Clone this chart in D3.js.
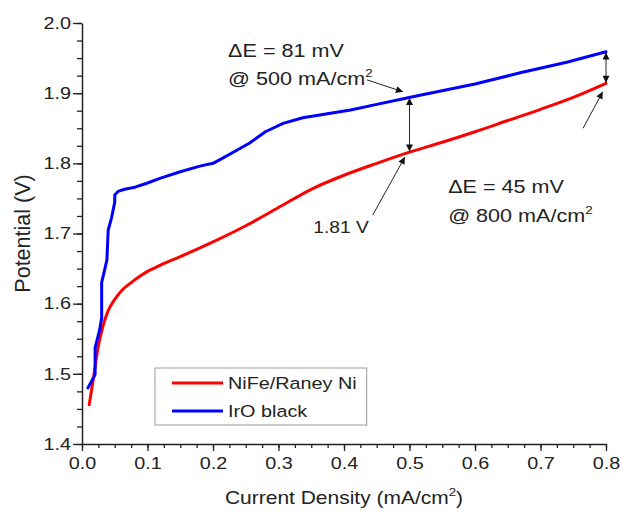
<!DOCTYPE html>
<html>
<head>
<meta charset="utf-8">
<script src="https://cdn.jsdelivr.net/npm/d3@7"></script>
<style>
  body { margin: 0; background: #fff; }
  svg { display: block; font-family: Arial, "Liberation Sans", sans-serif; }
</style>
</head>
<body>
<svg></svg>
<script>
// NiFe/Raney Ni (red)
const nifeX = [0.011, 0.017, 0.025, 0.032, 0.04, 0.05, 0.06, 0.075, 0.09, 0.1, 0.12, 0.15, 0.2, 0.25, 0.3, 0.35, 0.4, 0.45, 0.5, 0.55, 0.6, 0.65, 0.7, 0.75, 0.8];
const nifeY = [1.456, 1.491, 1.540, 1.568, 1.590, 1.606, 1.618, 1.630, 1.640, 1.646, 1.655, 1.667, 1.688, 1.711, 1.737, 1.763, 1.783, 1.800, 1.816, 1.830, 1.845, 1.861, 1.877, 1.894, 1.914];

// IrO black (blue)
const iroX = [0.009, 0.012, 0.02, 0.02, 0.027, 0.03, 0.03, 0.038, 0.04, 0.045, 0.047, 0.05, 0.05, 0.055, 0.065, 0.081, 0.1, 0.12, 0.15, 0.18, 0.2, 0.21, 0.237, 0.256, 0.28, 0.307, 0.337, 0.37, 0.41, 0.45, 0.496, 0.516, 0.531, 0.6, 0.669, 0.74, 0.8];
const iroY = [1.480, 1.485, 1.499, 1.537, 1.563, 1.58, 1.63, 1.662, 1.705, 1.722, 1.731, 1.745, 1.755, 1.760, 1.763, 1.766, 1.772, 1.779, 1.788, 1.796, 1.800, 1.805, 1.819, 1.829, 1.845, 1.857, 1.865, 1.870, 1.876, 1.884, 1.893, 1.897, 1.900, 1.913, 1.929, 1.944, 1.959];

const seriesNames = ['NiFe/Raney Ni', 'IrO black'];
const xTicks = [0, 0.1, 0.2, 0.3, 0.4, 0.5, 0.6, 0.7, 0.8];
const yTicks = [1.4, 1.5, 1.6, 1.7, 1.8, 1.9, 2.0];

const size = {w: 620, h: 515};
const margin = {t: 23, r: 14, b: 71, l: 82};
const sx = 1.2; // glyphs in the figure are a bit wide

const svg = d3.select('svg').attr('width', size.w).attr('height', size.h);

const x = d3.scaleLinear().domain([0, 0.8]).range([margin.l, size.w - margin.r]);
const y = d3.scaleLinear().domain([1.4, 2.0]).range([size.h - margin.b, margin.t]);

const minorX = d3.range(0, 0.8001, 0.025);
const minorY = d3.range(1.4, 2.0001, 0.025);

// minor ticks
svg.append('g')
    .attr('transform', `translate(0,${y(1.4)})`)
    .call(d3.axisBottom(x).tickValues(minorX).tickSize(4).tickSizeOuter(0).tickFormat(''))
    .call(g => g.select('.domain').remove());
svg.append('g')
    .attr('transform', `translate(${x(0)},0)`)
    .call(d3.axisLeft(y).tickValues(minorY).tickSize(5).tickSizeOuter(0).tickFormat(''))
    .call(g => g.select('.domain').remove());

// major ticks + labels
const xAxis = svg.append('g')
    .attr('transform', `translate(0,${y(1.4)})`)
    .call(d3.axisBottom(x).tickValues(xTicks).tickSize(7).tickSizeOuter(0).tickPadding(6).tickFormat(d3.format('.1f')));
const yAxis = svg.append('g')
    .attr('transform', `translate(${x(0)},0)`)
    .call(d3.axisLeft(y).tickValues(yTicks).tickSize(9).tickSizeOuter(0).tickFormat(d3.format('.1f')));

svg.selectAll('.tick line').attr('stroke', '#222').attr('stroke-width', 1.3);
svg.selectAll('.domain').attr('stroke', '#222').attr('stroke-width', 1.5);

xAxis.selectAll('text')
    .attr('font-size', 16.5).attr('fill', '#222')
    .attr('transform', `scale(${sx},1)`);
yAxis.selectAll('text')
    .attr('font-size', 16.5).attr('fill', '#222')
    .attr('x', -11 / sx)
    .attr('transform', `scale(${sx},1)`);

// axis titles
const xt = svg.append('g')
    .attr('transform', `translate(${(x(0) + x(0.8)) / 2},504) scale(${sx},1)`)
    .append('text')
    .attr('text-anchor', 'middle').attr('font-size', 17.5).attr('fill', '#222');
xt.append('tspan').text('Current Density (mA/cm');
xt.append('tspan').text('2').attr('font-size', 11).attr('dy', -8);
xt.append('tspan').text(')').attr('dy', 8);

svg.append('text')
    .attr('transform', `translate(30,${(y(1.4) + y(2.0)) / 2}) rotate(-90)`)
    .attr('text-anchor', 'middle').attr('font-size', 21.5).attr('fill', '#222')
    .text('Potential (V)');

// curves
const series = [
    {name: seriesNames[0], color: '#ff0000', pts: d3.zip(nifeX, nifeY), curve: d3.curveMonotoneX},
    {name: seriesNames[1], color: '#0000ff', pts: d3.zip(iroX, iroY), curve: d3.curveLinear}
];
svg.selectAll('path.curve')
    .data(series)
    .join('path')
    .attr('class', 'curve')
    .attr('d', d => d3.line().curve(d.curve).x(p => x(p[0])).y(p => y(p[1]))(d.pts))
    .attr('fill', 'none')
    .attr('stroke', d => d.color)
    .attr('stroke-width', 3)
    .attr('stroke-linejoin', 'round')
    .attr('stroke-linecap', 'round');

// arrow heads
const defs = svg.append('defs');
defs.append('marker')
    .attr('id', 'head')
    .attr('viewBox', '0 0 10 10')
    .attr('refX', 10).attr('refY', 5)
    .attr('markerWidth', 9).attr('markerHeight', 7)
    .attr('markerUnits', 'userSpaceOnUse')
    .attr('orient', 'auto-start-reverse')
    .append('path').attr('d', 'M0,0 L10,5 L0,10 z').attr('fill', '#111');

const arrows = [
    {x1: 0.435, y1: 1.919, x2: 0.49, y2: 1.902, both: false},
    {x1: 0.5, y1: 1.893, x2: 0.5, y2: 1.817, both: true},
    {x1: 0.444, y1: 1.7265, x2: 0.493, y2: 1.809, both: false},
    {x1: 0.8, y1: 1.958, x2: 0.8, y2: 1.915, both: true},
    {x1: 0.765, y1: 1.850, x2: 0.795, y2: 1.902, both: false}
];
svg.selectAll('line.arrow')
    .data(arrows)
    .join('line')
    .attr('class', 'arrow')
    .attr('x1', d => x(d.x1)).attr('y1', d => y(d.y1))
    .attr('x2', d => x(d.x2)).attr('y2', d => y(d.y2))
    .attr('stroke', '#222').attr('stroke-width', 1)
    .attr('marker-end', 'url(#head)')
    .attr('marker-start', d => d.both ? 'url(#head)' : null);

// annotation texts
const notes = [
    {x: 0.223, y: 1.9516, t: '\u0394E = 81 mV', sup: '', size: 18},
    {x: 0.223, y: 1.9117, t: '@ 500 mA/cm', sup: '2', size: 18},
    {x: 0.559, y: 1.7578, t: '\u0394E = 45 mV', sup: '', size: 18},
    {x: 0.559, y: 1.7165, t: '@ 800 mA/cm', sup: '2', size: 18},
    {x: 0.353, y: 1.701, t: '1.81 V', sup: '', size: 16}
];
notes.forEach(n => {
    const t = svg.append('g')
        .attr('transform', `translate(${x(n.x)},${y(n.y)}) scale(${sx},1)`)
        .append('text').attr('font-size', n.size).attr('fill', '#222');
    t.append('tspan').text(n.t);
    if (n.sup) t.append('tspan').text(n.sup).attr('font-size', n.size * 0.62).attr('dy', -8);
});

// legend
const lg = svg.append('g').attr('transform', 'translate(155,368)');
const box = lg.append('rect')
    .attr('height', 57)
    .attr('fill', '#fff').attr('stroke', '#999').attr('stroke-width', 1);
let textEnd = 0;
series.forEach((s, i) => {
    lg.append('line')
        .attr('x1', 17).attr('x2', 68)
        .attr('y1', 15 + i * 28).attr('y2', 15 + i * 28)
        .attr('stroke', s.color).attr('stroke-width', 3);
    const t = lg.append('g')
        .attr('transform', `translate(73,${21 + i * 28}) scale(${sx},1)`)
        .append('text').attr('font-size', 16.5).attr('fill', '#222')
        .text(s.name);
    textEnd = Math.max(textEnd, 73 + t.node().getComputedTextLength() * sx);
});
box.attr('width', textEnd + 10);
</script>
</body>
</html>
